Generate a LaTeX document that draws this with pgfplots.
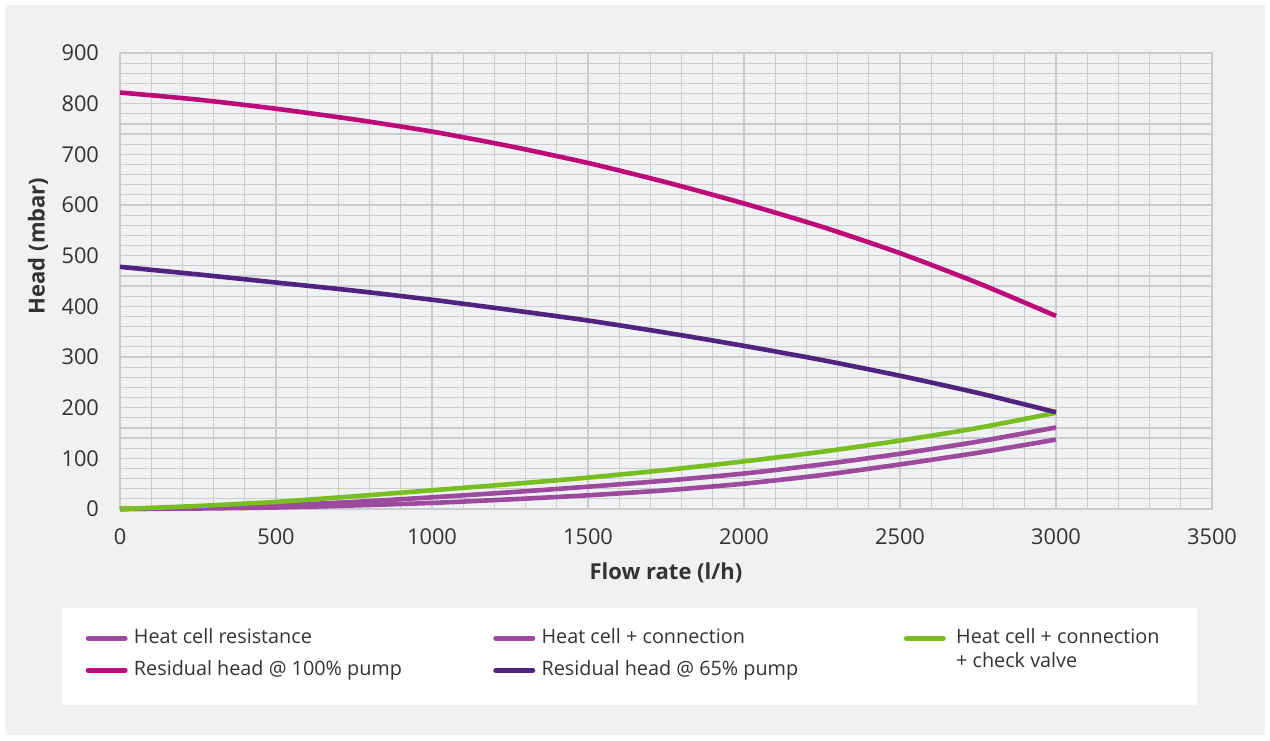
\documentclass[border=0pt]{standalone}
\usepackage{fontspec}
\setmainfont{Open Sans}
\usepackage{pgfplots}
\pgfplotsset{compat=1.18}

\definecolor{bgc}{HTML}{F0F1F3}
\definecolor{gridc}{HTML}{CBCCCE}
\definecolor{pinkc}{HTML}{BE0A78}
\definecolor{violc}{HTML}{50237F}
\definecolor{lilac}{HTML}{9C4A9E}
\definecolor{greenc}{HTML}{78BE20}
\definecolor{txt}{HTML}{333333}

\begin{document}
\begin{tikzpicture}
% page background and legend panel
\fill[white] (0,0) rectangle (635pt,370pt);
\fill[bgc] (2.5pt,2.5pt) rectangle (632.5pt,367.5pt);
\fill[white] (31pt,17.5pt) rectangle (598.5pt,66pt);
\begin{axis}[
  at={(60pt,115.5pt)}, anchor=south west,
  width=546pt, height=228pt, scale only axis,
  xmin=0, xmax=3500, ymin=0, ymax=900,
  xtick={0,500,...,3500}, ytick={0,100,...,900},
  minor x tick num=4, minor y tick num=4,
  grid=both,
  major grid style={gridc, line width=0.6pt},
  minor grid style={gridc, line width=0.6pt},
  axis line style={gridc, line width=0.8pt},
  major tick length=0pt, minor tick length=0pt,
  clip=false,
  /pgf/number format/assume math mode=true,
  /pgf/number format/1000 sep={},
  ticklabel style={font=\fontsize{10.9}{13}\selectfont, text=txt},
  xticklabel style={yshift=-6.5pt},
  yticklabel style={xshift=-7pt},
  xlabel={Flow rate (l/h)},
  ylabel={Head (mbar)},
  label style={font=\fontsize{11}{13}\selectfont\bfseries, text=txt},
  xlabel style={at={(axis description cs:0.5,-0.14)}, anchor=center},
  ylabel style={at={(axis description cs:-0.075,0.577)}, anchor=center},
  every axis plot/.append style={line width=2.3pt, smooth, tension=0.4},
  legend columns=3,
  legend cell align=left,
  legend image code/.code={%
    \path (0pt,0pt) (21pt,0pt);
    \draw[#1, line width=2.6pt, line cap=round] (1.3pt,0pt) -- (19.7pt,0pt);},
  legend style={draw=none, fill=none,
    at={(axis description cs:-0.0339,-0.2610)}, anchor=north west,
    inner sep=0pt, column sep=2pt, row sep=6pt,
    nodes={inner sep=0pt, text height=7.5pt, text depth=2.5pt,
      font=\fontsize{9.9}{12}\selectfont, text=txt}},
]
\addplot[lilac] coordinates {
  (0,0) (250,1) (500,3) (750,7) (1000,12) (1250,19) (1500,27)
  (1750,37) (2000,50) (2250,67) (2500,88) (2750,111) (3000,137)};
\addlegendentry{\makebox[176.5pt][l]{Heat cell resistance}}
\addplot[lilac] coordinates {
  (0,0) (250,2) (500,7) (750,14) (1000,23) (1250,33) (1500,44)
  (1750,56) (2000,70) (2250,88) (2500,109) (2750,133) (3000,161)};
\addlegendentry{\makebox[178pt][l]{Heat cell + connection}}
\addplot[greenc] coordinates {
  (0,0) (250,6) (500,14) (750,25) (1000,37) (1250,49) (1500,62)
  (1750,77) (2000,94) (2250,113) (2500,135) (2750,160) (3000,190)};
\addlegendentry{\hspace{2pt}\parbox[t]{130pt}{Heat cell + connection\\+ check valve}}
\addplot[pinkc] coordinates {
  (0,822) (250,808) (500,790) (750,769) (1000,745) (1250,716) (1500,683)
  (1750,645) (2000,603) (2250,557) (2500,505) (2750,446) (3000,381)};
\addlegendentry{\makebox[176.5pt][l]{Residual head @ 100\% pump}}
\addplot[violc] coordinates {
  (0,478) (250,463) (500,447) (750,431) (1000,413) (1250,393) (1500,372)
  (1750,348) (2000,322) (2250,294) (2500,263) (2750,229) (3000,191)};
\addlegendentry{\makebox[178pt][l]{Residual head @ 65\% pump}}
\end{axis}
\end{tikzpicture}
\end{document}
